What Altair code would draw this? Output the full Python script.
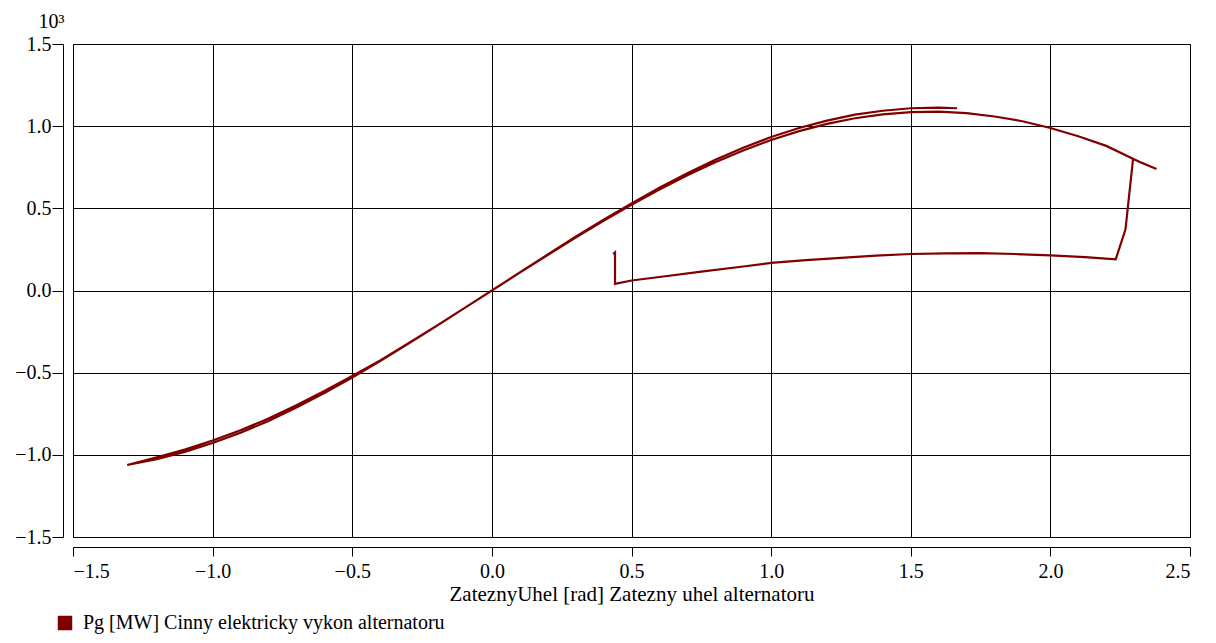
import altair as alt
import pandas as pd

# Path of the trajectory (load angle [rad], active power [10^3 MW]), in drawing order
delta = [
    # fault-on trajectory
    0.434, 0.441, 0.441, 0.500, 0.600, 0.750, 0.900, 1.000, 1.125, 1.250, 1.375,
    1.500, 1.625, 1.750, 1.875, 2.000, 2.125, 2.234,
    # switching jump
    2.269, 2.296, 2.380, 2.320,
    # back along the post-fault curve (lower strand)
    2.200, 2.100, 2.000, 1.900, 1.800, 1.700, 1.600, 1.500, 1.400, 1.300, 1.200,
    1.100, 1.000, 0.900, 0.800, 0.700, 0.600, 0.500, 0.400, 0.300, 0.200, 0.100,
    0.000, -0.100, -0.200, -0.300, -0.400, -0.500, -0.600, -0.700, -0.800, -0.900,
    -1.000, -1.100, -1.200, -1.306,
    # forward again (upper strand)
    -1.200, -1.100, -1.000, -0.900, -0.800, -0.700, -0.600, -0.500, -0.400,
    -0.300, -0.200, -0.100, 0.000, 0.100, 0.200, 0.300, 0.400, 0.500, 0.600,
    0.700, 0.800, 0.900, 1.000, 1.100, 1.200, 1.300, 1.400, 1.500, 1.600, 1.666,
]
power = [
    0.222, 0.232, 0.040, 0.061, 0.082, 0.115, 0.146, 0.168, 0.185, 0.199, 0.212,
    0.222, 0.226, 0.227, 0.222, 0.214, 0.203, 0.189,
    0.372, 0.800, 0.739, 0.782,
    0.880, 0.939, 0.989, 1.030, 1.059, 1.079, 1.088, 1.085, 1.072, 1.048, 1.014,
    0.970, 0.916, 0.852, 0.781, 0.701, 0.614, 0.522, 0.424, 0.322, 0.216, 0.109,
    0.000, -0.109, -0.217, -0.322, -0.425, -0.520, -0.612, -0.698, -0.779, -0.851,
    -0.913, -0.968, -1.015, -1.062,
    -1.026, -0.982, -0.928, -0.866, -0.794, -0.712, -0.624, -0.529, -0.429,
    -0.325, -0.218, -0.109, 0.000, 0.110, 0.219, 0.327, 0.431, 0.530, 0.625,
    0.714, 0.796, 0.869, 0.934, 0.989, 1.034, 1.070, 1.094, 1.109, 1.113, 1.109,
]
series_name = "Pg [MW] Cinny elektricky vykon alternatoru"
x_ticks = [-1.5, -1.0, -0.5, 0.0, 0.5, 1.0, 1.5, 2.0, 2.5]
y_ticks = [-1.5, -1.0, -0.5, 0.0, 0.5, 1.0, 1.5]

df = pd.DataFrame({
    "delta": delta,
    "power": power,
    "order": list(range(len(delta))),
    "series": [series_name] * len(delta),
})

FONT = "Liberation Serif"
FS = 20

chart = alt.Chart(df).mark_line(strokeWidth=2.2, strokeJoin="miter").encode(
    x=alt.X("delta:Q",
            scale=alt.Scale(domain=[-1.5, 2.5], nice=False, zero=False),
            axis=alt.Axis(values=x_ticks, format=".1f",
                          title="ZateznyUhel [rad] Zatezny uhel alternatoru",
                          titleFontSize=21,
                          offset=10, tickSize=9, labelPadding=5,
                          titlePadding=2)),
    y=alt.Y("power:Q",
            scale=alt.Scale(domain=[-1.5, 1.5], nice=False, zero=False),
            axis=alt.Axis(values=y_ticks, format=".1f", title="10³",
                          offset=10, tickSize=11, labelPadding=1,
                          titleAngle=0, titleAlign="center",
                          titleBaseline="alphabetic", titleX=-12, titleY=-17)),
    order="order:Q",
    color=alt.Color("series:N",
                    scale=alt.Scale(range=["#800000"]),
                    legend=alt.Legend(title=None, orient="none",
                                      legendX=-18, legendY=569,
                                      symbolType="square", symbolSize=210,
                                      symbolFillColor="#800000",
                                      symbolStrokeWidth=0,
                                      labelFont=FONT, labelFontSize=FS,
                                      labelColor="black", labelOffset=8,
                                      labelLimit=800)),
).properties(
    width=1117, height=493,
    autosize=alt.AutoSizeParams(type="none"),
    padding={"left": 65, "top": 36, "right": 10, "bottom": 100},
    background="white",
).configure_view(
    stroke="black", strokeWidth=1
).configure_axis(
    grid=True, gridColor="black", gridOpacity=1, gridWidth=1,
    domainColor="black", domainWidth=1,
    tickColor="black", tickWidth=1,
    labelFont=FONT, labelFontSize=FS, labelColor="black",
    titleFont=FONT, titleFontSize=FS, titleColor="black", titleFontWeight="normal",
)

chart.save("out.html", embed_options={"renderer": "svg", "actions": False})
